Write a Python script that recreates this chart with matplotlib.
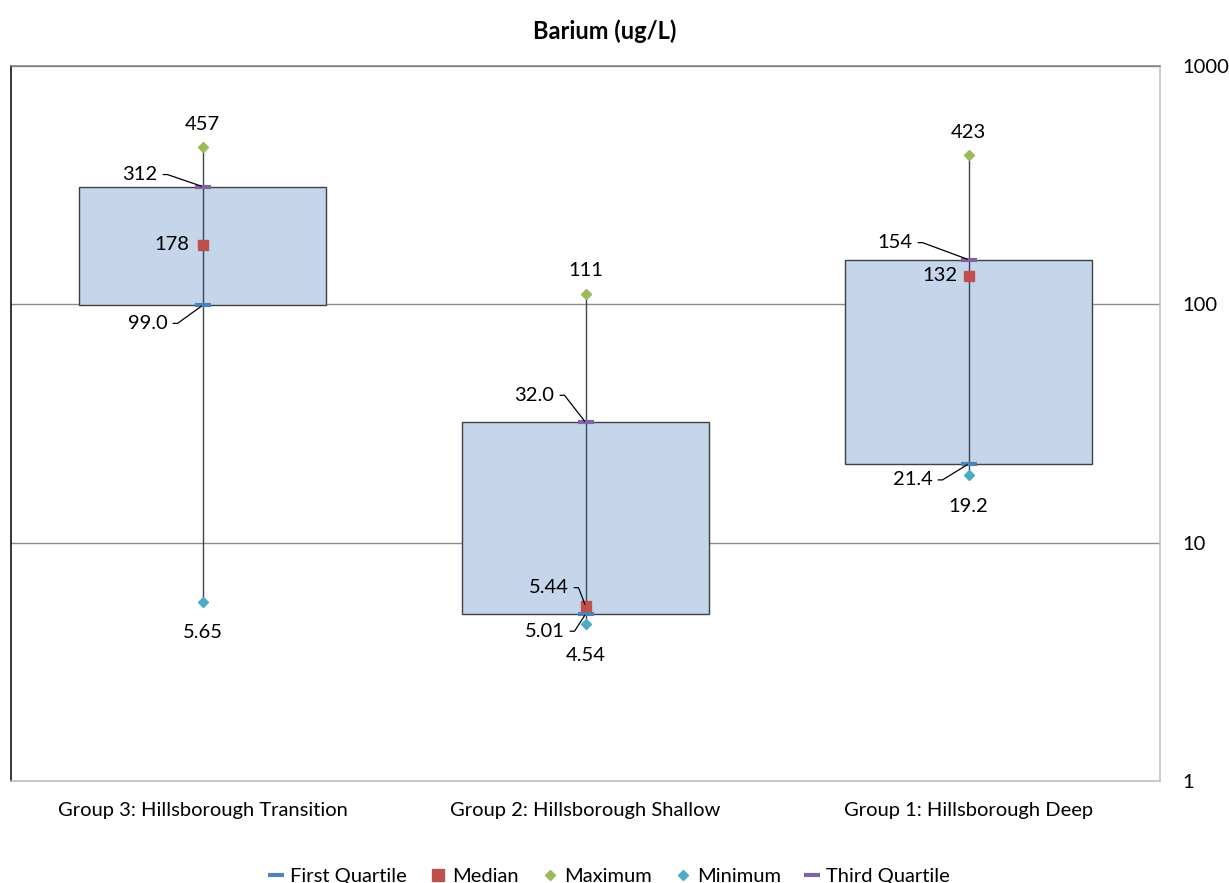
import math
import matplotlib
matplotlib.use("Agg")
import matplotlib.pyplot as plt
from matplotlib.lines import Line2D
from matplotlib.ticker import FixedLocator, FixedFormatter, NullLocator

plt.rcParams['font.family'] = ['Lato', 'DejaVu Sans']

# Summary statistics per well group (ug/L)
groups = ["Group 3: Hillsborough Transition",
          "Group 2: Hillsborough Shallow",
          "Group 1: Hillsborough Deep"]
first_quartile = [99.0, 5.01, 21.4]
median = [178, 5.44, 132]
maximum = [457, 111, 423]
minimum = [5.65, 4.54, 19.2]
third_quartile = [312, 32.0, 154]
y_ticks = [1, 10, 100, 1000]

c_q1 = "#4F81BD"
c_med = "#C0504D"
c_max = "#9BBB59"
c_min = "#4BACC6"
c_q3 = "#8064A2"
box_fill = "#C5D5EA"
fs = 14.5

fig = plt.figure(figsize=(12.29, 8.83), dpi=100)
ax = fig.add_axes([11/1229, 1-781/883, 1149/1229, 715/883])
ax.set_yscale("log")
ax.set_ylim(1, 1000)
ax.set_xlim(-0.5, 2.5)

x = list(range(len(groups)))

# boxes span first to third quartile
heights = [q3 - q1 for q1, q3 in zip(first_quartile, third_quartile)]
ax.bar(x, heights, bottom=first_quartile, width=0.643, color=box_fill,
       edgecolor="#404040", linewidth=1.0, zorder=2)
ax.vlines(x, minimum, maximum, color="#3A4556", linewidth=1.0, zorder=3)

ax.plot(x, first_quartile, ls="none", marker="_", ms=12, mew=3, color=c_q1, zorder=4)
ax.plot(x, third_quartile, ls="none", marker="_", ms=12, mew=3, color=c_q3, zorder=4)
ax.plot(x, median, ls="none", marker="s", ms=7, color=c_med, zorder=5)
ax.plot(x, maximum, ls="none", marker="D", ms=5.5, color=c_max, zorder=5)
ax.plot(x, minimum, ls="none", marker="D", ms=5.5, color=c_min, zorder=5)


def fmt(v):
    return "%.3g" % v if v >= 100 else ("%.1f" % v if v >= 10 else "%.2f" % v)


def label(xi, val, dx, dy, ha="right", leader=True):
    props = None
    if leader:
        ang = math.degrees(math.atan2(dy, dx + 10))
        props = dict(arrowstyle="-", color="black", lw=0.9, relpos=(1, 0.5),
                     shrinkA=2, shrinkB=1,
                     connectionstyle="angle,angleA=0,angleB=%.1f,rad=0" % ang)
    ax.annotate(fmt(val), xy=(xi, val), xytext=(dx, dy), textcoords="offset pixels",
                ha=ha, va="center", fontsize=fs, arrowprops=props, zorder=6)


# label offsets (pixels) per group: (Q3, Q1, median)
q3_off = [(-45, 12), (-31, 27), (-56, 17)]
q1_off = [(-35, -18), (-21, -17), (-36, -16)]
med_off = [(-13, 0, False), (-17, 18, True), (-11, 0, False)]

for i in x:
    ax.annotate(fmt(maximum[i]), xy=(i, maximum[i]), xytext=(0, 23),
                textcoords="offset pixels", ha="center", va="center", fontsize=fs)
    ax.annotate(fmt(minimum[i]), xy=(i, minimum[i]), xytext=(0, -31),
                textcoords="offset pixels", ha="center", va="center", fontsize=fs)
    label(i, third_quartile[i], *q3_off[i])
    label(i, first_quartile[i], *q1_off[i])
    dx, dy, ld = med_off[i]
    label(i, median[i], dx, dy, leader=ld)

# axes styling
ax.yaxis.tick_right()
ax.yaxis.set_major_locator(FixedLocator(y_ticks))
ax.yaxis.set_major_formatter(FixedFormatter([str(t) for t in y_ticks]))
ax.yaxis.set_minor_locator(NullLocator())
ax.tick_params(axis="y", length=0, pad=16, labelsize=fs)
ax.grid(axis="y", color="#8C8C8C", linewidth=1.0, zorder=0)
ax.set_axisbelow(True)

ax.set_xticks(x)
ax.set_xticklabels(groups)
ax.tick_params(axis="x", length=0, pad=15, labelsize=fs)

ax.spines["left"].set_color("black")
ax.spines["top"].set_color("#7F7F7F")
ax.spines["right"].set_color("#BFBFBF")
ax.spines["bottom"].set_color("#BFBFBF")
for s in ax.spines.values():
    s.set_linewidth(1.1)

fig.text(605/1229, 1-31/883, "Barium (ug/L)", ha="center", va="center",
         fontsize=17, fontweight="bold")

handles = [
    Line2D([], [], ls="none", marker="_", ms=12, mew=3, color=c_q1),
    Line2D([], [], ls="none", marker="s", ms=8, color=c_med),
    Line2D([], [], ls="none", marker="D", ms=5.5, color=c_max),
    Line2D([], [], ls="none", marker="D", ms=5.5, color=c_min),
    Line2D([], [], ls="none", marker="_", ms=12, mew=3, color=c_q3),
]
names = ["First Quartile", "Median", "Maximum", "Minimum", "Third Quartile"]
fig.legend(handles, names, loc="center", bbox_to_anchor=(609/1229, 1-876/883),
           ncol=5, frameon=False, fontsize=fs, handlelength=0.8,
           handletextpad=0.3, columnspacing=1.15)

fig.savefig("out.png", dpi=100)
